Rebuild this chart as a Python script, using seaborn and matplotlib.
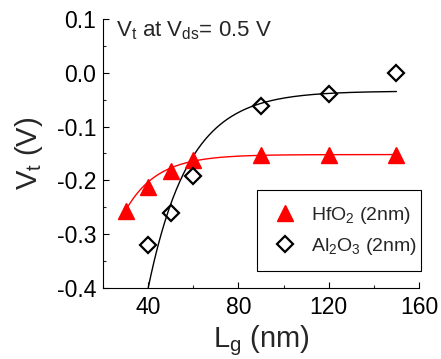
import numpy as np
import pandas as pd
import matplotlib
matplotlib.use("Agg")
import matplotlib.pyplot as plt
from matplotlib.patches import Rectangle
import seaborn as sns

# --- data ---
hfo2_lg = [30, 40, 50, 60, 90, 120, 150]
hfo2_vt = [-0.256, -0.212, -0.183, -0.162, -0.153, -0.152, -0.152]
al2o3_lg = [40, 50, 60, 90, 120, 150]
al2o3_vt = [-0.320, -0.261, -0.192, -0.061, -0.040, 0.000]

# exponential-decay fit parameters (y = y0 + A*exp(-x/t))
hfo2_fit = dict(y0=-0.152, A=-0.887, t=14.0, x0=30, x1=150)
al2o3_fit = dict(y0=-0.034, A=-3.38, t=18.0, x0=30, x1=150)

x_ticks = [40, 80, 120, 160]
y_ticks = [-0.4, -0.3, -0.2, -0.1, 0.0, 0.1]

sns.set_theme(style="ticks")
plt.rcParams["font.family"] = ["Liberation Sans", "DejaVu Sans"]
plt.rcParams["mathtext.fontset"] = "custom"
plt.rcParams["mathtext.rm"] = "Liberation Sans"
plt.rcParams["mathtext.it"] = "Liberation Sans"
plt.rcParams["mathtext.bf"] = "Liberation Sans:bold"

fig = plt.figure(figsize=(4.41, 3.59), dpi=100)
ax = fig.add_axes([103 / 441, 1 - 288 / 359, 316 / 441, 269 / 359])

def fit_curve(p):
    xs = np.linspace(p["x0"], p["x1"], 300)
    return xs, p["y0"] + p["A"] * np.exp(-xs / p["t"])

xr, yr = fit_curve(hfo2_fit)
xb, yb = fit_curve(al2o3_fit)
fits = pd.DataFrame({"x": np.concatenate([xr, xb]), "y": np.concatenate([yr, yb]),
                     "s": ["HfO2"] * len(xr) + ["Al2O3"] * len(xb)})
sns.lineplot(data=fits, x="x", y="y", hue="s", palette={"HfO2": "#ff0000", "Al2O3": "black"},
             linewidth=1.0, legend=False, ax=ax, sort=False, estimator=None)

ax.plot(hfo2_lg, hfo2_vt, linestyle="none", marker="^", ms=12, color="#ff0000",
        mec="#ff0000", label="HfO$_2$ (2nm)", zorder=5)
ax.plot(al2o3_lg, al2o3_vt, linestyle="none", marker="D", ms=8, mfc="none", mec="black",
        mew=1.6, label="Al$_2$O$_3$ (2nm)", zorder=5)

ax.set_xlim(20, 160)
ax.set_ylim(-0.4, 0.1)
ax.set_xticks(x_ticks)
ax.set_yticks(y_ticks)
ax.set_xticks([20, 60, 100, 140], minor=True)
ax.set_yticks(np.arange(-0.35, 0.1, 0.1), minor=True)
ax.set_yticklabels([f"{v:.1f}" for v in y_ticks])
ax.tick_params(which="major", direction="in", length=4, width=0.8, labelsize=16.5, pad=5,
               colors="black")
ax.tick_params(which="minor", direction="in", length=2.5, width=0.8)
ax.tick_params(axis="x", which="major", pad=6)
for s in ["left", "bottom"]:
    ax.spines[s].set_linewidth(0.8)
    ax.spines[s].set_color("black")
sns.despine(ax=ax)

ax.set_xlabel("L$_g$ (nm)", fontsize=21, labelpad=3)
ax.set_ylabel("V$_t$ (V)", fontsize=21, labelpad=8)

ax.text(0.041, 0.934, "V$_t$ at V$_{ds}$= 0.5 V", transform=ax.transAxes,
        fontsize=16, va="baseline", ha="left")

# legend box (frame) and entries
ax.add_patch(Rectangle((0.487, 0.063), 0.519, 0.301, transform=ax.transAxes,
                       facecolor="white", edgecolor="black", linewidth=0.8,
                       clip_on=False, zorder=6))
leg = ax.legend(loc="center left", bbox_to_anchor=(0.545, 0.2125), fontsize=14,
                frameon=False, borderpad=0, borderaxespad=0,
                handletextpad=0.85, labelspacing=0.5, handlelength=1.0)
leg.set_zorder(7)

fig.savefig("out.png", dpi=100)
